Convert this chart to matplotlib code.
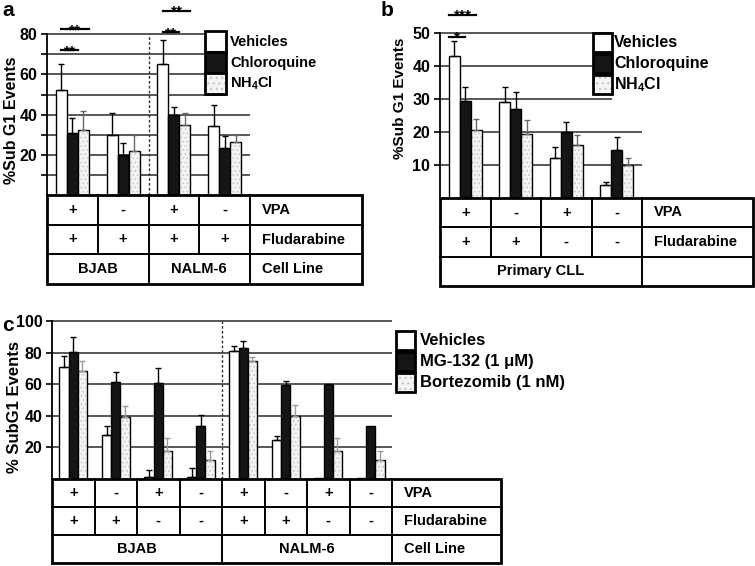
import numpy as np
import matplotlib.pyplot as plt
from matplotlib.patches import Rectangle

plt.rcParams['font.family'] = ['Liberation Sans', 'DejaVu Sans']
plt.rcParams['font.weight'] = 'bold'
plt.rcParams['mathtext.fontset'] = 'custom'
plt.rcParams['mathtext.rm'] = 'Liberation Sans:bold'
plt.rcParams['mathtext.bf'] = 'Liberation Sans:bold'
plt.rcParams['hatch.linewidth'] = 0.7

W, H = 755, 566

# ---- panel a : autophagy inhibitors, cell lines
a_vpa = ['+', '-', '+', '-']
a_flu = ['+', '+', '+', '+']
a_cells = [('BJAB', 2), ('NALM-6', 2)]
a_vehicle = [52, 30, 65, 34.5]
a_vehicle_err = [13, 11, 12, 10.5]
a_chloro = [31, 20, 40, 23.5]
a_chloro_err = [7.5, 6, 4, 6]
a_nh4 = [32.5, 22, 35, 26.5]
a_nh4_err = [9.5, 8, 6, 3.5]
a_labels = ['Vehicles', 'Chloroquine', r'NH$_\mathbf{4}$Cl']
# (group, compared series, height, stars)
a_sig = [(0, 1, 72, '**'), (0, 2, 82.5, '**'), (2, 1, 81, '**'), (2, 2, 91.5, '**')]

# ---- panel b : primary CLL
b_vpa = ['+', '-', '+', '-']
b_flu = ['+', '+', '-', '-']
b_cells = [('Primary CLL', 4)]
b_vehicle = [43, 29, 12, 4]
b_vehicle_err = [4.5, 4.5, 3.5, 1]
b_chloro = [29.5, 27, 20, 14.5]
b_chloro_err = [4, 5, 3, 4]
b_nh4 = [20.5, 19.5, 16, 10]
b_nh4_err = [3.5, 4, 3, 2]
b_sig = [(0, 1, 48.8, '*'), (0, 2, 55.5, '***')]

# ---- panel c : proteasome inhibitors
c_vpa = ['+', '-', '+', '-', '+', '-', '+', '-']
c_flu = ['+', '+', '-', '-', '+', '+', '-', '-']
c_cells = [('BJAB', 4), ('NALM-6', 4)]
c_vehicle = [71, 28, 1, 1, 81, 25, 0.5, 0.5]
c_vehicle_err = [7, 5.5, 5, 6, 3, 2.5, 0, 0]
c_mg132 = [80.5, 61.5, 61, 33.5, 83, 59.5, 60, 33.5]
c_mg132_err = [9.5, 6.5, 9.5, 7, 4.5, 2.5, 0, 0]
c_bortez = [68.5, 39.5, 18, 12, 75, 40, 18, 12]
c_bortez_err = [6.5, 6.5, 8, 5.5, 2.5, 7, 8, 5.5]
c_labels = ['Vehicles', 'MG-132 (1 \u03bcM)', 'Bortezomib (1 nM)']

BW = 0.217

fig = plt.figure(figsize=(W / 100, H / 100), dpi=100)
ov = fig.add_axes([0, 0, 1, 1], zorder=5)
ov.set_xlim(0, W)
ov.set_ylim(H, 0)
ov.axis('off')


def make_axes(x0, x1, y0, ppu, ytop, n):
    # x0,x1 pixel extent of bar region, y0 pixel row of zero
    top = y0 - ytop * ppu
    ax = fig.add_axes([x0 / W, 1 - y0 / H, (x1 - x0) / W, (y0 - top) / H])
    ax.set_xlim(0, n)
    ax.set_ylim(0, ytop)
    ax.patch.set_visible(False)
    for s in ['top', 'right', 'bottom']:
        ax.spines[s].set_visible(False)
    ax.spines['left'].set_linewidth(1.3)
    ax.set_xticks([])
    ax.tick_params(axis='y', direction='out', length=4, width=1.2, labelsize=11.5, pad=3)
    return ax


def draw_bars(ax, vals_list, errs_list, err_colors):
    n = len(vals_list[0])
    x = np.arange(n) + 0.5
    for k, (vals, errs) in enumerate(zip(vals_list, errs_list)):
        xs = x + (k - 1) * BW
        vals = np.array(vals, float)
        if k == 0:
            ax.bar(xs, vals, BW, color='white', edgecolor='black', lw=1, zorder=3)
        elif k == 1:
            ax.bar(xs, vals, BW, color='#151515', edgecolor='black', lw=1, zorder=3)
        else:
            ax.bar(xs, vals, BW, color='#f4f4f4', edgecolor='#c8c8c8', hatch='....', lw=0, zorder=3)
            ax.bar(xs, vals, BW, fill=False, edgecolor='black', lw=1, zorder=3)
        errs = np.array(errs, float)
        m = errs > 0
        ax.errorbar(xs[m], vals[m], yerr=[np.zeros(m.sum()), errs[m]], fmt='none',
                    ecolor=err_colors[k], elinewidth=1, capsize=2, capthick=1, zorder=4)


def draw_sig(ax, sigs, shift):
    for g, k, y, txt in sigs:
        x_start = g + 0.5 - BW - BW / 2 + shift
        x_end = g + 0.5 + (k - 1) * BW + shift
        ax.plot([x_start, x_end], [y, y], color='black', lw=1.6, clip_on=False)
        ax.annotate(txt, xy=((x_start + x_end) / 2, y), xytext=(0, -3.5),
                    textcoords='offset points', ha='center', va='baseline',
                    fontsize=11, annotation_clip=False)


def draw_legend(x, ys, size, labels, fs, tx):
    for k, (y, lab) in enumerate(zip(ys, labels)):
        if k == 0:
            ov.add_patch(Rectangle((x, y), size, size, facecolor='white', edgecolor='black', lw=2))
        elif k == 1:
            ov.add_patch(Rectangle((x, y), size, size, facecolor='#151515', edgecolor='black', lw=2))
        else:
            ov.add_patch(Rectangle((x, y), size, size, facecolor='#f4f4f4', edgecolor='#c0c0c0',
                                   hatch='...', lw=0))
            ov.add_patch(Rectangle((x, y), size, size, fill=False, edgecolor='black', lw=2))
        ov.text(tx, y + size / 2, lab, fontsize=fs, va='center', ha='left')


def draw_table(x0, gw, n, x_right, rows_y, vpa, flu, cells, fs_sym, fs_lab):
    xs = [x0 + i * gw for i in range(n + 1)]
    xl = xs[-1]
    y0, y1, y2, y3 = rows_y
    lw = 1.4
    ov.add_patch(Rectangle((x0, y0), x_right - x0, y3 - y0, fill=False, edgecolor='black', lw=2))
    ov.plot([x0, x_right], [y1, y1], color='black', lw=lw)
    ov.plot([x0, x_right], [y2, y2], color='black', lw=lw)
    ov.plot([xl, xl], [y0, y3], color='black', lw=lw)
    for i in range(1, n):
        ov.plot([xs[i], xs[i]], [y0, y2], color='black', lw=lw)
    for i in range(n):
        xc = (xs[i] + xs[i + 1]) / 2
        ov.text(xc, (y0 + y1) / 2, vpa[i], ha='center', va='center', fontsize=fs_sym)
        ov.text(xc, (y1 + y2) / 2, flu[i], ha='center', va='center', fontsize=fs_sym)
    pos = 0
    for name, span in cells:
        xa, xb = xs[pos], xs[pos + span]
        if pos > 0:
            ov.plot([xa, xa], [y2, y3], color='black', lw=lw)
        ov.text((xa + xb) / 2, (y2 + y3) / 2, name, ha='center', va='center', fontsize=fs_lab)
        pos += span
    ov.text(xl + 12, (y0 + y1) / 2, 'VPA', va='center', fontsize=fs_lab)
    ov.text(xl + 12, (y1 + y2) / 2, 'Fludarabine', va='center', fontsize=fs_lab)
    if len(cells) > 1:
        ov.text(xl + 12, (y2 + y3) / 2, 'Cell Line', va='center', fontsize=fs_lab)


# ================= panel a
ax = make_axes(47, 250, 195, 2.01, 97, 4)
ax.set_yticks([20, 40, 60, 80])
ax.set_yticks([10, 30, 50, 70], minor=True)
ax.tick_params(axis='y', which='minor', direction='out', length=4, width=1.2)
ax.spines['left'].set_bounds(0, 80)
leg_x_end = (227 - 47) / 50.75
grid = [10, 20, 30, 40, 50, 60, 70, 80]
ends = [leg_x_end if g >= 48 else 4 for g in grid]
ax.hlines(grid, 0, ends, colors='#2a2a2a', lw=1.1, zorder=1)
ax.vlines(2, 0, 80, colors='#333333', lw=1, linestyles=(0, (2, 1.5)), zorder=1)
draw_bars(ax, [a_vehicle, a_chloro, a_nh4], [a_vehicle_err, a_chloro_err, a_nh4_err],
          ['black', 'black', '#666666'])
draw_sig(ax, a_sig, BW / 2)
draw_legend(205, [31, 52, 73], 21, a_labels, 10.5, 230)
draw_table(47, 50.75, 4, 362, [195, 225, 254, 284], a_vpa, a_flu, a_cells, 10.5, 10.5)
fig.text(12 / W, 1 - 120 / H, '%Sub G1 Events', rotation=90, ha='center', va='center', fontsize=11.5)
fig.text(2 / W, 1 - 1 / H, 'a', ha='left', va='top', fontsize=15)

# ================= panel b
ax = make_axes(440, 642, 198, 3.3, 60, 4)
ax.set_yticks([10, 20, 30, 40, 50])
ax.spines['left'].set_bounds(0, 50)
leg_x_end = (612 - 440) / 50.5
grid = [10, 20, 30, 40, 50]
ends = [leg_x_end if g >= 28 else 4 for g in grid]
ax.hlines(grid, 0, ends, colors='#2a2a2a', lw=1.1, zorder=1)
draw_bars(ax, [b_vehicle, b_chloro, b_nh4], [b_vehicle_err, b_chloro_err, b_nh4_err],
          ['black', 'black', '#666666'])
draw_sig(ax, b_sig, 0)
draw_legend(593, [33, 54, 75], 19, a_labels, 11.5, 614)
draw_table(440, 50.5, 4, 753, [198, 227, 257, 286], b_vpa, b_flu, b_cells, 10.5, 10.5)
fig.text(400 / W, 1 - 98 / H, '%Sub G1 Events', rotation=90, ha='center', va='center', fontsize=11)
fig.text(381 / W, 1 - 1 / H, 'b', ha='left', va='top', fontsize=15)

# ================= panel c
ax = make_axes(52, 392, 479, 1.58, 102, 8)
ax.set_yticks([20, 40, 60, 80, 100])
ax.spines['left'].set_bounds(0, 100)
ax.hlines([20, 40, 60, 80, 100], 0, 8, colors='#2a2a2a', lw=1.1, zorder=1)
ax.vlines(4, 0, 100, colors='#333333', lw=1, linestyles=(0, (2, 1.5)), zorder=1)
draw_bars(ax, [c_vehicle, c_mg132, c_bortez], [c_vehicle_err, c_mg132_err, c_bortez_err],
          ['black', 'black', '#9a9a9a'])
draw_legend(396, [331, 352, 373], 19, c_labels, 12, 420)
draw_table(52, 42.5, 8, 501, [479, 507, 535, 563], c_vpa, c_flu, c_cells, 10.5, 10.5)
fig.text(15 / W, 1 - 407 / H, '% SubG1 Events', rotation=90, ha='center', va='center', fontsize=12)
fig.text(2 / W, 1 - 316 / H, 'c', ha='left', va='top', fontsize=15)

fig.savefig('out.png', dpi=100)
